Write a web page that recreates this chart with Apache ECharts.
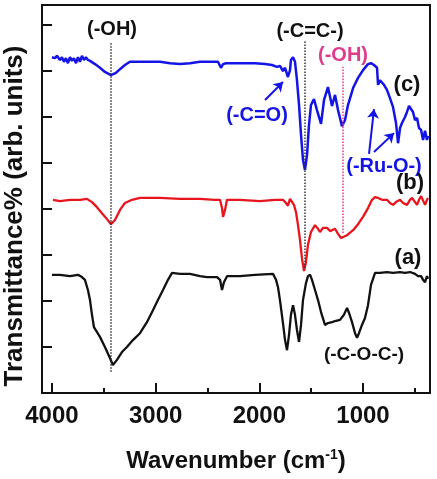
<!DOCTYPE html>
<html>
<head>
<meta charset="utf-8">
<script src="https://cdn.jsdelivr.net/npm/echarts@6/dist/echarts.min.js"></script>
<style>
  html, body { margin: 0; padding: 0; background: #fff; }
  #main { width: 437px; height: 479px; }
</style>
</head>
<body>
<div id="main"></div>
<script>
// 波数 (cm-1) 与透过率(任意单位)
var wnC = [4000,3971,3952,3923,3904,3884,3865,3846,3826,3807,3788,3768,3749,3730,3711,3691,3672,3653,3633,3585,3537,3489,3431,3383,3344,3296,3248,3151,3055,2958,2862,2765,2669,2572,2476,2399,2370,2350,2322,2187,2042,1945,1878,1830,1801,1772,1752,1733,1724,1704,1695,1675,1656,1637,1617,1598,1579,1560,1540,1521,1502,1473,1444,1405,1376,1338,1299,1270,1241,1203,1174,1145,1096,1048,1000,952,923,894,865,855,836,798,769,740,711,682,662,643,624,595,576,556,547,537,518,498,479,460,440,421,402,383,373];
var tC  = [73.0,72.8,73.3,72.4,73.0,72.0,72.8,71.7,73.0,72.2,72.8,71.7,73.0,72.0,73.3,72.4,73.0,72.4,72.2,71.5,70.7,69.8,69.1,69.6,70.4,71.3,72.0,72.0,72.0,72.0,71.7,71.5,71.7,72.0,72.0,72.0,70.7,71.5,71.7,71.7,71.7,71.5,71.3,70.9,71.1,70.0,70.7,69.3,68.7,70.2,72.4,73.0,72.0,68.0,62.6,56.1,50.7,48.5,51.7,58.3,62.6,63.9,61.5,58.5,63.7,66.5,62.4,64.8,61.5,58.0,59.3,62.6,66.3,68.5,70.2,71.5,71.7,71.3,70.7,67.0,68.0,67.0,65.9,64.1,62.2,58.7,54.3,57.6,58.7,60.0,61.1,62.4,62.0,62.8,61.1,59.3,59.8,57.6,57.2,55.0,57.0,55.0,55.9];

var wnB = [3990,3923,3826,3730,3662,3614,3566,3518,3469,3431,3392,3344,3296,3228,3151,2958,2765,2572,2428,2379,2360,2350,2331,2312,2187,1994,1849,1772,1743,1724,1704,1685,1666,1646,1627,1608,1589,1569,1550,1531,1502,1463,1434,1415,1386,1347,1318,1299,1270,1241,1212,1193,1154,1096,1048,1000,952,913,884,855,817,769,740,711,682,643,614,576,547,527,498,479,460,440,421,402,383,373];
var tB  = [42.0,41.7,42.0,42.0,42.2,41.5,40.4,39.1,37.8,36.7,37.6,39.8,41.3,42.0,42.4,42.4,42.2,42.2,42.0,42.0,40.2,38.3,39.8,42.0,42.0,41.7,42.0,42.0,41.3,40.7,42.2,42.4,40.9,39.3,36.5,33.3,29.3,26.5,28.5,32.2,35.0,36.5,35.7,35.0,35.9,35.9,35.2,35.0,35.7,34.6,33.7,33.7,34.3,35.4,36.7,38.3,40.2,42.0,42.6,42.4,42.0,42.0,41.3,40.9,41.5,42.0,41.3,40.9,42.0,42.4,41.5,40.9,42.0,42.8,42.4,40.9,42.0,42.4];

var wnA = [4000,3923,3826,3749,3711,3682,3653,3633,3614,3595,3537,3489,3441,3412,3373,3325,3277,3219,3151,3084,3026,2978,2929,2881,2842,2765,2669,2572,2505,2408,2379,2360,2341,2312,2187,2042,1868,1839,1820,1801,1772,1752,1733,1714,1695,1675,1656,1637,1617,1598,1579,1550,1531,1511,1492,1463,1434,1405,1367,1338,1299,1260,1222,1184,1154,1135,1106,1077,1058,1039,1010,981,952,923,884,836,769,711,643,595,547,498,470,440,421,402,383,373];
var tA  = [25.7,25.7,25.4,25.7,25.2,24.6,22.4,20.2,17.0,14.3,12.2,10.0,7.6,6.1,7.2,8.9,10.0,11.5,13.0,15.4,18.0,20.2,22.4,24.6,26.1,25.9,25.9,25.4,25.2,25.2,24.6,22.4,24.1,25.4,25.4,25.7,25.9,24.6,23.0,20.2,15.2,11.5,9.3,12.6,17.0,19.1,17.0,13.7,11.1,14.8,20.2,23.9,25.4,25.7,24.6,22.4,20.2,17.6,14.8,15.2,15.4,15.7,15.9,17.0,18.5,17.4,15.4,13.0,12.0,13.0,14.8,16.3,19.1,23.5,26.1,26.1,26.3,26.1,26.3,26.1,26.3,25.9,25.4,25.4,24.6,24.1,25.4,24.8];

var majorTicks = [1000, 2000, 3000, 4000];
var minorTicks = [500, 1500, 2500, 3500];

var pairs = function (xs, ys) {
	var out = [];
	for (var i = 0; i < xs.length; i++) out.push([xs[i], ys[i]]);
	return out;
};

var FONT = '"Liberation Sans", Arial, sans-serif';
var BLUE = '#1414e6', RED = '#e8141e', INK = '#111', PINK = '#e03c8c';

var chart = echarts.init(document.getElementById('main'));

var label = function (text, x, y, color, size) {
	return {
		type: 'text', x: x, y: y, silent: true,
		style: {
			text: text, fill: color, textAlign: 'center', textVerticalAlign: 'middle',
			font: 'bold ' + size + 'px ' + FONT
		}
	};
};

//纵轴标题用旋转文字放置
var yTitle = label('Transmittance% (arb. units)', 0, 0, INK, 26);
yTitle.x = 15; yTitle.y = 216; yTitle.rotation = Math.PI / 2;

var option = {
	animation: false,
	backgroundColor: '#fff',
	grid: {
		left: 42, right: 7, top: 5, bottom: 86, show: true, borderColor: INK, borderWidth: 2,
		containLabel: false, outerBoundsMode: 'none'
	},
	xAxis: [{
		type: 'value', min: 354, max: 4096, inverse: true,
		name: 'Wavenumber (cm{sup|-1})', nameLocation: 'middle', nameGap: 55,
		nameTextStyle: {
			color: INK, fontSize: 24, fontWeight: 'bold', fontFamily: FONT,
			rich: { sup: { fontSize: 14, fontWeight: 'bold', fontFamily: FONT, color: INK, verticalAlign: 'top', padding: [0, 0, 12, 0] } }
		},
		axisLine: { lineStyle: { color: INK, width: 2 } },
		axisTick: { inside: true, length: 10, lineStyle: { color: INK, width: 2 }, customValues: majorTicks },
		axisLabel: {
			customValues: majorTicks, color: INK, fontSize: 24, fontWeight: 'bold', fontFamily: FONT, margin: 11,
			formatter: function (v) { return String(v); }
		},
		splitLine: { show: false }
	}, {
		type: 'value', min: 354, max: 4096, inverse: true, position: 'bottom', gridIndex: 0,
		axisLine: { show: false },
		axisTick: { inside: true, length: 5, lineStyle: { color: INK, width: 2 }, customValues: minorTicks },
		axisLabel: { show: false },
		splitLine: { show: false }
	}],
	yAxis: {
		type: 'value', min: 0, max: 84.35, interval: 10,
		axisLine: { lineStyle: { color: INK, width: 2 } },
		axisTick: { inside: true, length: 10, lineStyle: { color: INK, width: 2 } },
		axisLabel: { show: false },
		splitLine: { show: false }
	},
	series: [
		{
			name: '(a)', type: 'line', showSymbol: false, data: pairs(wnA, tA),
			lineStyle: { color: INK, width: 2.3 }, z: 3
		},
		{
			name: '(b)', type: 'line', showSymbol: false, data: pairs(wnB, tB),
			lineStyle: { color: RED, width: 2.3 }, z: 3,
			markLine: {
				silent: true, symbol: ['none', 'none'], label: { show: false },
				lineStyle: { type: 'dotted', width: 1.5, color: '#333' },
				data: [
					[{ coord: [3431, 4.6] }, { coord: [3431, 76.1] }],
					[{ coord: [1560, 27.2] }, { coord: [1560, 76.7] }],
					[{ coord: [1193, 34.8], lineStyle: { color: PINK, type: 'dotted', width: 1.5 } }, { coord: [1193, 70.9] }]
				]
			}
		},
		{
			name: '(c)', type: 'line', showSymbol: false, data: pairs(wnC, tC),
			lineStyle: { color: BLUE, width: 2.5 }, z: 4,
			markLine: {
				silent: true, symbol: ['none', 'arrow'], symbolSize: 9, label: { show: false },
				lineStyle: { type: 'solid', width: 2, color: BLUE },
				data: [
					[{ coord: [1945, 63.7] }, { coord: [1772, 67.6] }],
					[{ coord: [942, 52.0] }, { coord: [894, 61.7] }],
					[{ coord: [894, 52.4] }, { coord: [701, 56.5] }]
				]
			}
		}
	],
	graphic: [
		yTitle,
		label('(-OH)', 112, 29, INK, 20),
		label('(-C=C-)', 310, 31, INK, 20),
		label('(-OH)', 343, 55, PINK, 20),
		label('(-C=O)', 257, 115, BLUE, 20),
		label('(-Ru-O-)', 384, 166, BLUE, 20),
		label('(-C-O-C-)', 364, 355, INK, 19),
		label('(c)', 407, 85, INK, 22),
		label('(b)', 410, 183, INK, 22),
		label('(a)', 408, 258, INK, 22)
	]
};
chart.setOption(option);
</script>
</body>
</html>
